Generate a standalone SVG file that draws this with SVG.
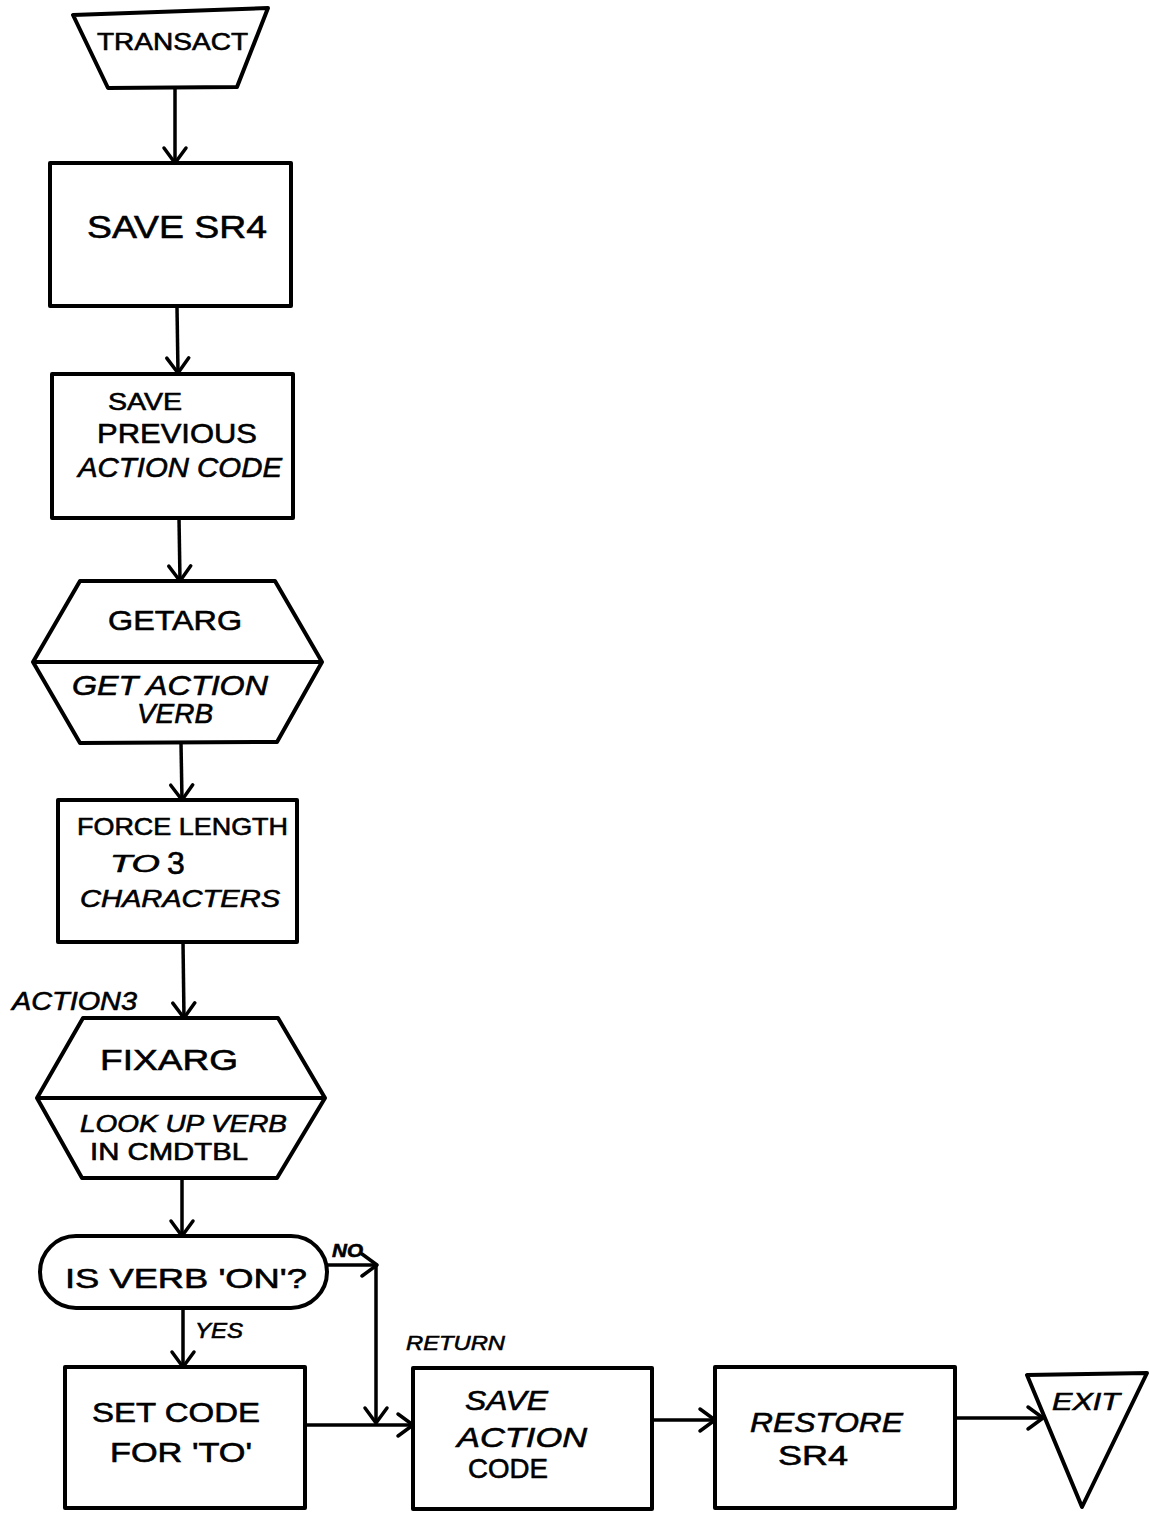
<svg xmlns="http://www.w3.org/2000/svg" width="1149" height="1513" viewBox="0 0 1149 1513">
<defs>
<style>
.shape{fill:none;stroke:#000;stroke-width:4;stroke-linejoin:round}
.conn{fill:none;stroke:#000;stroke-width:3.5}
text{font-family:"Liberation Sans","DejaVu Sans",sans-serif;fill:#000;stroke:#000;stroke-width:0.6}
.t{font-size:28px}
.s{font-size:24px}
.i{font-style:italic}
.b{font-weight:bold}
</style>
<marker id="arr" viewBox="-18 -14 22 28" markerWidth="22" markerHeight="28" refX="0" refY="0" orient="auto" markerUnits="userSpaceOnUse">
<path d="M-15,-11 L0,0 L-15,11" fill="none" stroke="#000" stroke-width="3.5" stroke-linejoin="round" stroke-linecap="round"/>
</marker>
</defs>
<rect width="1149" height="1513" fill="#fff"/>

<g id="connectors">
<path class="conn" d="M175,88 L175,163" marker-end="url(#arr)"/>
<path class="conn" d="M177,307 L178,373" marker-end="url(#arr)"/>
<path class="conn" d="M179,518 L180,581" marker-end="url(#arr)"/>
<path class="conn" d="M181,743 L182,800" marker-end="url(#arr)"/>
<path class="conn" d="M183,942 L184,1018" marker-end="url(#arr)"/>
<path class="conn" d="M182,1178 L182,1236" marker-end="url(#arr)"/>
<path class="conn" d="M183,1308 L183,1367" marker-end="url(#arr)"/>
<path class="conn" d="M327,1265 L377,1265" marker-end="url(#arr)"/>
<path class="conn" d="M376,1265 L376,1423" marker-end="url(#arr)"/>
<path class="conn" d="M305,1425 L413,1425" marker-end="url(#arr)"/>
<path class="conn" d="M652,1420 L715,1420" marker-end="url(#arr)"/>
<path class="conn" d="M955,1418 L1043,1418" marker-end="url(#arr)"/>
<text class="i b" x="332" y="1257" font-size="19" textLength="31" lengthAdjust="spacingAndGlyphs">NO</text>
<text class="i" x="195" y="1338" font-size="22" textLength="48" lengthAdjust="spacingAndGlyphs">YES</text>
<text class="i" x="406" y="1350" font-size="21" textLength="99" lengthAdjust="spacingAndGlyphs">RETURN</text>
<text class="i" x="12" y="1010" font-size="25" textLength="125" lengthAdjust="spacingAndGlyphs">ACTION3</text>
</g>

<g id="transact">
<path class="shape" d="M73,15 L268,8 L237,87 L108,88 Z"/>
<text class="s" x="97" y="50" textLength="151" lengthAdjust="spacingAndGlyphs">TRANSACT</text>
</g>

<g id="save-sr4">
<rect class="shape" x="50" y="163" width="241" height="143"/>
<text x="87" y="238" font-size="32" textLength="180" lengthAdjust="spacingAndGlyphs">SAVE  SR4</text>
</g>

<g id="save-previous">
<rect class="shape" x="52" y="374" width="241" height="144"/>
<text class="s" x="108" y="410" textLength="74" lengthAdjust="spacingAndGlyphs">SAVE</text>
<text class="t" x="97" y="443" textLength="160" lengthAdjust="spacingAndGlyphs">PREVIOUS</text>
<text class="t i" x="78" y="477" textLength="204" lengthAdjust="spacingAndGlyphs">ACTION CODE</text>
</g>

<g id="getarg">
<path class="shape" d="M80,581 L275,581 L322,662 L277,742 L80,743 L33,662 Z"/>
<line class="shape" x1="33" y1="662" x2="322" y2="662"/>
<text class="t" x="108" y="630" textLength="134" lengthAdjust="spacingAndGlyphs">GETARG</text>
<text class="t i" x="72" y="695" textLength="196" lengthAdjust="spacingAndGlyphs">GET  ACTION</text>
<text class="t i" x="137" y="723" textLength="76" lengthAdjust="spacingAndGlyphs">VERB</text>
</g>

<g id="force-length">
<rect class="shape" x="58" y="800" width="239" height="142"/>
<text class="s" x="77" y="835" textLength="211" lengthAdjust="spacingAndGlyphs">FORCE LENGTH</text>
<text class="s i" x="110" y="872" textLength="50" lengthAdjust="spacingAndGlyphs">TO</text>
<text x="167" y="874" font-size="32">3</text>
<text class="s i" x="80" y="907" textLength="200" lengthAdjust="spacingAndGlyphs">CHARACTERS</text>
</g>

<g id="fixarg">
<path class="shape" d="M83,1018 L278,1018 L325,1098 L277,1178 L82,1178 L37,1098 Z"/>
<line class="shape" x1="37" y1="1098" x2="325" y2="1098"/>
<text x="100" y="1070" font-size="30" textLength="138" lengthAdjust="spacingAndGlyphs">FIXARG</text>
<text class="s i" x="80" y="1132" textLength="207" lengthAdjust="spacingAndGlyphs">LOOK UP VERB</text>
<text class="s" x="90" y="1160" textLength="158" lengthAdjust="spacingAndGlyphs">IN CMDTBL</text>
</g>

<g id="is-verb-on">
<rect class="shape" x="40" y="1236" width="287" height="72" rx="36" ry="36"/>
<text class="t" x="65" y="1288" textLength="242" lengthAdjust="spacingAndGlyphs">IS  VERB  'ON'?</text>
</g>

<g id="set-code">
<rect class="shape" x="65" y="1367" width="240" height="141"/>
<text class="t" x="92" y="1422" textLength="168" lengthAdjust="spacingAndGlyphs">SET  CODE</text>
<text class="t" x="110" y="1462" textLength="142" lengthAdjust="spacingAndGlyphs">FOR  'TO'</text>
</g>

<g id="save-action-code">
<rect class="shape" x="413" y="1368" width="239" height="141"/>
<text class="t i" x="465" y="1410" textLength="83" lengthAdjust="spacingAndGlyphs">SAVE</text>
<text class="t i" x="457" y="1447" textLength="130" lengthAdjust="spacingAndGlyphs">ACTION</text>
<text class="t" x="468" y="1478" textLength="80" lengthAdjust="spacingAndGlyphs">CODE</text>
</g>

<g id="restore-sr4">
<rect class="shape" x="715" y="1367" width="240" height="141"/>
<text class="t i" x="750" y="1432" textLength="153" lengthAdjust="spacingAndGlyphs">RESTORE</text>
<text class="t" x="778" y="1465" textLength="70" lengthAdjust="spacingAndGlyphs">SR4</text>
</g>

<g id="exit">
<path class="shape" d="M1027,1375 L1147,1373 L1082,1507 Z"/>
<text class="s i" x="1052" y="1410" textLength="68" lengthAdjust="spacingAndGlyphs">EXIT</text>
</g>
</svg>
